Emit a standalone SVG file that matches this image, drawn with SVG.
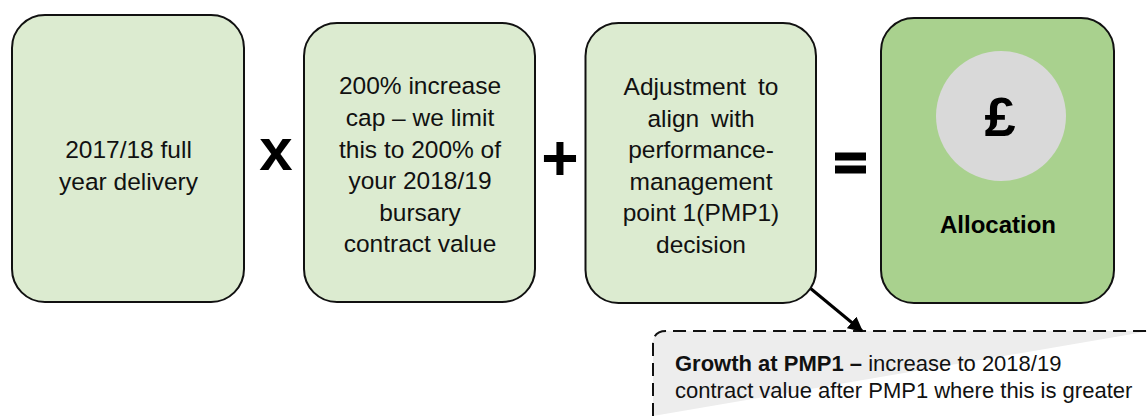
<svg xmlns="http://www.w3.org/2000/svg" width="1147" height="416" viewBox="0 0 1147 416">
<defs>
<style>
.box{fill:#dcebd0;stroke:#111;stroke-width:2}
.dark{fill:#a9d18e;stroke:#111;stroke-width:2}
.t{font-family:"Liberation Sans",Arial,sans-serif;font-size:24.5px;fill:#111;text-anchor:middle}
.op{font-family:"Liberation Sans",Arial,sans-serif;font-weight:bold;fill:#000;text-anchor:middle}
.n{font-family:"Liberation Sans",Arial,sans-serif;font-size:22px;fill:#111}
</style>
<marker id="ah" viewBox="0 0 10 10" refX="9" refY="5" markerWidth="5" markerHeight="5" orient="auto" markerUnits="strokeWidth">
<path d="M0,0 L10,5 L0,10 z" fill="#000"/>
</marker>
</defs>
<rect width="1147" height="416" fill="#fff"/>
<g id="note">
<path d="M653,416 L653,344 Q653,331 666,331 L1150,331" fill="#ededed" stroke="#111" stroke-width="2" stroke-dasharray="13,7"/>
<text class="n" x="675" y="371"><tspan font-weight="bold">Growth at PMP1 – </tspan>increase to 2018/19</text>
<text class="n" x="675" y="398">contract value after PMP1 where this is greater</text>
</g>
<g id="connectors">
<line x1="810" y1="288" x2="862" y2="331" stroke="#000" stroke-width="3" marker-end="url(#ah)"/>
</g>
<g id="delivery">
<rect class="box" x="12" y="15" width="232" height="287" rx="33"/>
<text class="t" x="128.5" y="158">2017/18 full</text>
<text class="t" x="128.5" y="190">year delivery</text>
</g>
<g id="times"><text class="op" x="276" y="170" font-size="60">x</text></g>
<g id="cap">
<rect class="box" x="304" y="23" width="231" height="279" rx="33"/>
<text class="t" x="420" y="94">200% increase</text>
<text class="t" x="420" y="126">cap – we limit</text>
<text class="t" x="420" y="158">this to 200% of</text>
<text class="t" x="420" y="189">your 2018/19</text>
<text class="t" x="420" y="221">bursary</text>
<text class="t" x="420" y="252">contract value</text>
</g>
<g id="plus"><text class="op" x="560" y="180" font-size="64">+</text></g>
<g id="adjust">
<rect class="box" x="585.5" y="23" width="230.5" height="280" rx="33"/>
<text class="t" x="701" y="95" word-spacing="5">Adjustment to</text>
<text class="t" x="701" y="126.5" word-spacing="5">align with</text>
<text class="t" x="701" y="158">performance-</text>
<text class="t" x="701" y="189.5">management</text>
<text class="t" x="701" y="221">point 1(PMP1)</text>
<text class="t" x="701" y="252.5">decision</text>
</g>
<g id="equals">
<rect x="835" y="152.5" width="31" height="8" fill="#000"/>
<rect x="835" y="165.5" width="31" height="8" fill="#000"/>
</g>
<g id="allocation">
<rect class="dark" x="881" y="18" width="233" height="285" rx="33"/>
<circle cx="1001" cy="116" r="65" fill="#d9d9d9"/>
<text class="op" x="1000" y="136" font-size="56">£</text>
<text class="op" x="998" y="233" font-size="24">Allocation</text>
</g>
</svg>
